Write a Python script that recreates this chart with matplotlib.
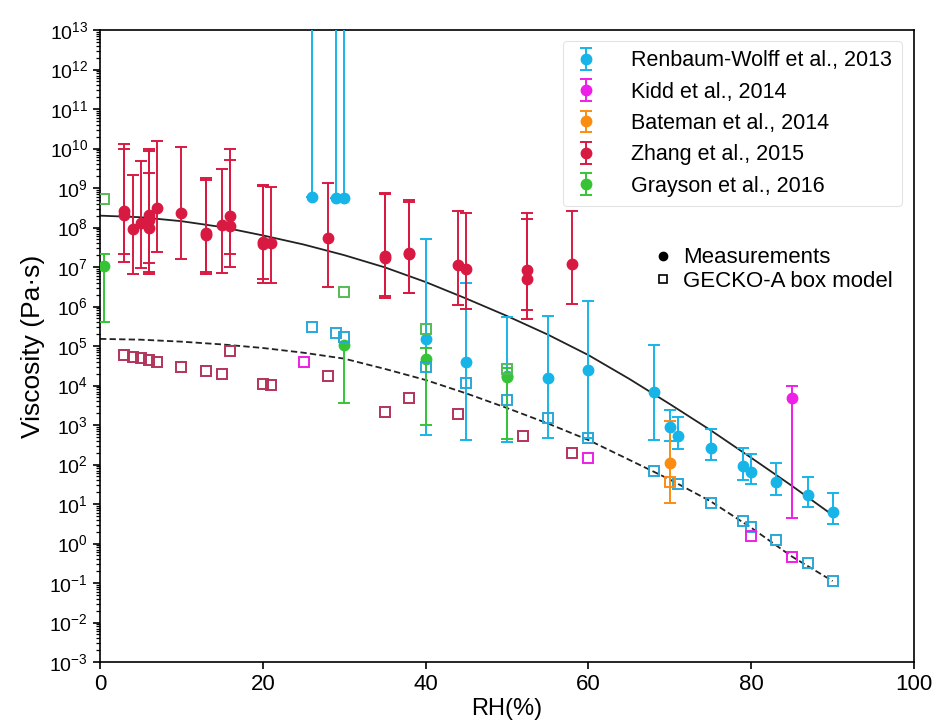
import matplotlib
matplotlib.use('Agg')
import matplotlib.pyplot as plt
import numpy as np
from matplotlib.lines import Line2D
from matplotlib.ticker import LogLocator, LogFormatterMathtext, NullFormatter

## data (viscosity stored as log10 of Pa s)
rw_rh = [26, 29, 30, 40, 45, 50, 55, 60, 68, 70, 71, 75, 79, 80, 83, 87, 90]
rw_log = [8.78, 8.74, 8.74, 5.17, 4.60, 4.25, 4.18, 4.38, 3.83, 2.94, 2.72, 2.43, 1.96, 1.82, 1.56, 1.24, 0.81]
rw_hi = [14, 14, 14, 7.70, 6.59, 5.74, 5.76, 6.14, 5.03, 3.38, 3.19, 2.89, 2.41, 2.27, 2.03, 1.69, 1.27]
rw_lo = [8.78, 8.74, 8.74, 2.75, 2.62, 2.58, 2.66, 2.67, 2.62, 2.60, 2.39, 2.11, 1.61, 1.50, 1.24, 0.93, 0.49]

kidd_rh = [85]
kidd_log = [3.69]
kidd_hi = [3.99]
kidd_lo = [0.65]

bateman_rh = [70]
bateman_log = [2.03]
bateman_hi = [3.10]
bateman_lo = [1.03]

zhang_rh = [3, 3, 4, 5, 6, 6, 6, 7, 10, 13, 13, 15, 16, 16, 20, 20, 21, 28, 35, 35, 38, 38, 44, 45, 52.5, 52.5, 58]
zhang_log = [8.42, 8.32, 7.96, 8.12, 8.32, 8.19, 8.00, 8.50, 8.36, 7.87, 7.81, 8.06, 8.30, 8.04,
             7.64, 7.58, 7.60, 7.73, 7.28, 7.22, 7.36, 7.32, 7.05, 6.95, 6.92, 6.69, 7.07]
zhang_hi = [10.11, 10.00, 9.33, 9.68, 9.98, 9.94, 9.39, 10.19, 10.03, 9.25, 9.20, 9.49, 9.99, 9.71,
            9.08, 9.05, 9.02, 9.12, 8.88, 8.85, 8.70, 8.64, 8.43, 8.36, 8.36, 8.22, 8.43]
zhang_lo = [7.13, 7.32, 6.82, 6.97, 7.11, 6.88, 6.82, 7.39, 7.20, 6.88, 6.82, 6.86, 7.00, 7.32,
            6.69, 6.60, 6.60, 6.49, 6.27, 6.22, 6.33, 6.33, 6.04, 5.93, 5.91, 5.68, 6.06]

grayson_rh = [0.5, 30, 40, 50]
grayson_log = [7.03, 5.03, 4.66, 4.22]
grayson_hi = [7.32, 5.10, 4.94, 4.45]
grayson_lo = [5.61, 3.55, 3.00, 2.65]

# GECKO-A box model squares
gecko_rw_rh = [26, 29, 30, 40, 45, 50, 55, 60, 68, 71, 75, 79, 80, 83, 87, 90]
gecko_rw_log = [5.49, 5.32, 5.22, 4.46, 4.06, 3.63, 3.17, 2.66, 1.84, 1.50, 1.03, 0.57, 0.43, 0.09, -0.50, -0.94]
gecko_kidd_rh = [25, 60, 80, 85]
gecko_kidd_log = [4.60, 2.17, 0.20, -0.34]
gecko_bateman_rh = [70]
gecko_bateman_log = [1.56]
gecko_zhang_rh = [3, 4, 5, 6, 7, 10, 13, 15, 16, 20, 21, 28, 35, 38, 44, 52, 58]
gecko_zhang_log = [4.76, 4.71, 4.69, 4.65, 4.60, 4.48, 4.37, 4.29, 4.88, 4.05, 4.01, 4.24, 3.34, 3.68, 3.28, 2.72, 2.28]
gecko_grayson_rh = [0.5, 30, 40, 50]
gecko_grayson_log = [8.72, 6.36, 5.43, 4.43]

# fitted curves, read every 5 %RH
fit_rh = [0, 5, 10, 15, 20, 25, 30, 35, 40, 45, 50, 55, 60, 65, 70, 75, 80, 85, 90]
fit_meas_log = [8.30, 8.26, 8.16, 8.01, 7.80, 7.57, 7.30, 6.99, 6.62, 6.20, 5.76, 5.29, 4.77, 4.17, 3.53, 2.87, 2.17, 1.46, 0.72]
fit_model_log = [5.18, 5.16, 5.11, 5.04, 4.95, 4.83, 4.68, 4.42, 4.14, 3.80, 3.43, 3.04, 2.62, 2.12, 1.62, 1.07, 0.40, -0.33, -0.95]

C_RW = '#17b4e8'
C_KIDD = '#ee1fe6'
C_BATE = '#fb8c12'
C_ZHANG = '#d81a42'
C_GRAY = '#36c436'
C_ZHANG_SQ = '#b3345a'
C_RW_SQ = '#2aa7d6'
C_GRAY_SQ = '#55bb55'

plt.rcParams['font.family'] = ['Liberation Sans', 'DejaVu Sans']
plt.rcParams['mathtext.default'] = 'regular'

fig = plt.figure(figsize=(9.36, 7.22), dpi=100)
ax = fig.add_axes([100 / 936, 60 / 722, 814 / 936, 632 / 722])


def to_lin(vals):
	return np.power(10.0, np.array(vals, dtype=float))


def draw_err(rh, lg, hi, lo, color, label):
	y = to_lin(lg)
	yerr = [y - to_lin(lo), to_lin(hi) - y]
	ax.errorbar(rh, y, yerr=yerr, fmt='o', color=color, ecolor=color, markersize=7.5,
		elinewidth=1.4, capsize=4.5, capthick=1.4, label=label, zorder=4)


## fits
ax.plot(fit_rh, to_lin(fit_meas_log), '-', color='#222222', lw=1.3, zorder=2)
ax.plot(fit_rh, to_lin(fit_model_log), '--', color='#222222', lw=1.3, dashes=(3.5, 1.8), zorder=2)

## measurements
draw_err(rw_rh, rw_log, rw_hi, rw_lo, C_RW, 'Renbaum-Wolff et al., 2013')
draw_err(kidd_rh, kidd_log, kidd_hi, kidd_lo, C_KIDD, 'Kidd et al., 2014')
draw_err(bateman_rh, bateman_log, bateman_hi, bateman_lo, C_BATE, 'Bateman et al., 2014')
draw_err(zhang_rh, zhang_log, zhang_hi, zhang_lo, C_ZHANG, 'Zhang et al., 2015')
draw_err(grayson_rh, grayson_log, grayson_hi, grayson_lo, C_GRAY, 'Grayson et al., 2016')

## model squares
sq = dict(marker='s', linestyle='none', markerfacecolor='none', markersize=7.5, markeredgewidth=1.4, zorder=5)
ax.plot(gecko_rw_rh, to_lin(gecko_rw_log), markeredgecolor=C_RW_SQ, **sq)
ax.plot(gecko_kidd_rh, to_lin(gecko_kidd_log), markeredgecolor=C_KIDD, **sq)
ax.plot(gecko_bateman_rh, to_lin(gecko_bateman_log), markeredgecolor=C_BATE, **sq)
ax.plot(gecko_zhang_rh, to_lin(gecko_zhang_log), markeredgecolor=C_ZHANG_SQ, **sq)
ax.plot(gecko_grayson_rh, to_lin(gecko_grayson_log), markeredgecolor=C_GRAY_SQ, **sq)

## axes
ax.set_yscale('log')
ax.set_xlim(0, 100)
ax.set_ylim(1e-3, 1e13)
ax.set_xticks([0, 20, 40, 60, 80, 100])
ax.yaxis.set_major_locator(LogLocator(base=10, numticks=40))
ax.yaxis.set_minor_locator(LogLocator(base=10, subs=np.arange(2, 10), numticks=40))
ax.yaxis.set_major_formatter(LogFormatterMathtext())
ax.yaxis.set_minor_formatter(NullFormatter())
ax.tick_params(axis='x', direction='out', length=5, width=1.2, labelsize=16)
ax.tick_params(axis='y', which='major', direction='out', length=5, width=1.2, labelsize=14)
ax.tick_params(axis='y', which='minor', direction='out', length=3, width=0.9)
for s in ax.spines.values():
	s.set_linewidth(1.2)

ax.set_xlabel('RH(%)', fontsize=17, labelpad=2)
ax.set_ylabel('Viscosity (Pa·s)', fontsize=19, labelpad=3)

## legends
leg = ax.legend(loc='upper right', bbox_to_anchor=(0.99, 0.99), fontsize=15.5, frameon=True,
	handlelength=1.2, handletextpad=1.5, labelspacing=0.48, borderpad=0.45, borderaxespad=0.2,
	fancybox=True, edgecolor='#dddddd')
leg.get_frame().set_linewidth(0.8)

extra = [Line2D([], [], marker='o', linestyle='none', color='black', markersize=6),
	Line2D([], [], marker='s', linestyle='none', markerfacecolor='none', markeredgecolor='black', markersize=6, markeredgewidth=1.2)]
leg2 = ax.legend(extra, ['Measurements', 'GECKO-A box model'], loc='upper left', bbox_to_anchor=(0.67, 0.67),
	fontsize=16, frameon=False, handlelength=0.8, handletextpad=0.5, labelspacing=0.1, borderaxespad=0)
ax.add_artist(leg)

fig.savefig('out.png', dpi=100)
